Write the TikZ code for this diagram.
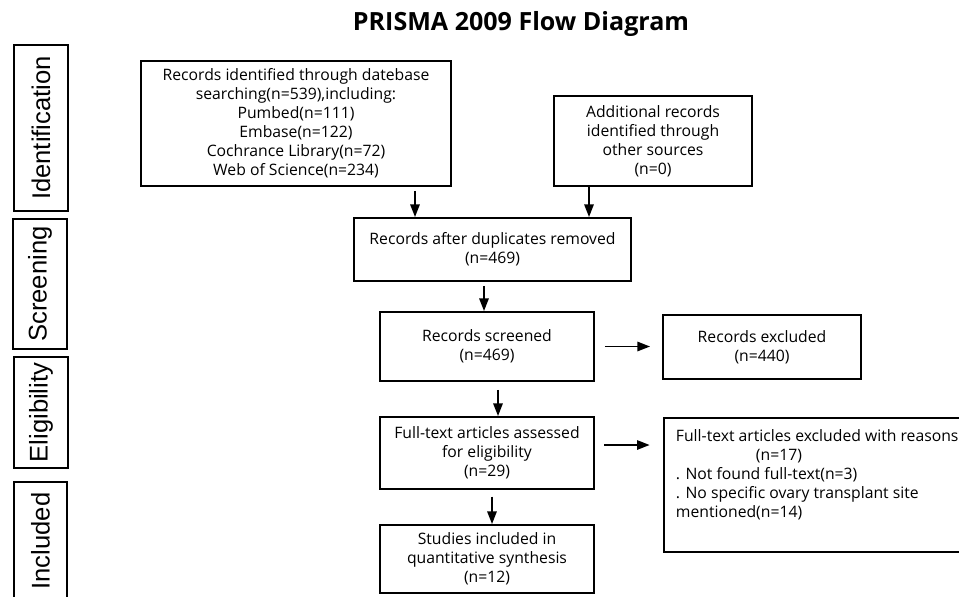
\documentclass[tikz,border=0pt]{standalone}
\usepackage{fontspec}
\setmainfont{Open Sans}
\newfontfamily\phasefont{Liberation Sans}
\usetikzlibrary{arrows.meta,positioning,calc}

\begin{document}
\begin{tikzpicture}[
  x=0.75pt, y=-0.75pt,
  >={Triangle[length=9.5pt,width=7pt]},
  box/.style={draw, line width=1.4pt, align=center, inner sep=2pt, font=\fontsize{11.8}{14.25}\selectfont},
  phase/.style={draw, line width=0.8pt, rotate=90, inner sep=0pt, font=\fontsize{19.2}{22}\phasefont},
  arr/.style={->, line width=1.4pt}
]
\useasboundingbox (0,0) rectangle (959,596);

\node[anchor=base, font=\fontsize{18.8}{20}\selectfont\bfseries] (title) at (521,30) {PRISMA 2009 Flow Diagram};

% phases
\node[phase, minimum width=166*0.75pt, minimum height=54*0.75pt] (ident) at (41,128) {Identification};
\node[phase, minimum width=130*0.75pt, minimum height=54*0.75pt] (screen) at (40,284) {Screening};
\node[phase, minimum width=111*0.75pt, minimum height=54*0.75pt] (elig) at (41,412.5) {Eligibility};
\node[phase, minimum width=118*0.75pt, minimum height=53*0.75pt] (incl) at (40.5,541) {Included};

% boxes
\node[box, minimum width=310*0.75pt, minimum height=125*0.75pt] (found) at (296,123.5)
  {Records identified through datebase\\searching(n=539),including:\\Pumbed(n=111)\\Embase(n=122)\\Cochrance Library(n=72)\\Web of Science(n=234)};
\node[box, minimum width=198*0.75pt, minimum height=90*0.75pt] (other) at (653,141)
  {Additional records\\identified through\\other sources\\(n=0)};
\node[box, minimum width=277*0.75pt, minimum height=63*0.75pt] (dedup) at (492.5,249.5)
  {Records after duplicates removed\\(n=469)};
\node[box, minimum width=214*0.75pt, minimum height=69*0.75pt] (screened) at (487,346.5)
  {Records screened\\(n=469)};
\node[box, minimum width=198*0.75pt, minimum height=64*0.75pt] (excl) at (762,347)
  {Records excluded\\(n=440)};
\node[box, minimum width=214*0.75pt, minimum height=72*0.75pt] (full) at (487,453)
  {Full-text articles assessed\\for eligibility\\(n=29)};
\node[box, anchor=north west, inner xsep=9pt, inner ysep=0pt] (fullexcl) at (663,417)
  {\parbox[c][100.5pt][t]{228pt}{\raggedright
   \rule{0pt}{18pt}Full-text articles excluded with reasons\\
   \hspace*{60pt}(n=17)\\
   . Not found full-text(n=3)\\
   . No specific ovary transplant site\\
   mentioned(n=14)}};
\node[box, minimum width=214*0.75pt, minimum height=68*0.75pt] (incl2) at (487,559)
  {Studies included in\\quantitative synthesis\\(n=12)};

% arrows
\path ($(found.south)+(119,0)$) coordinate (a1)
      ($(other.south)+(-64,0)$) coordinate (a2)
      ($(screened.north)+(-3,0)$) coordinate (a3)
      ($(screened.south)+(11,0)$) coordinate (a4)
      ($(full.east)+(0,-8)$) coordinate (a5)
      ($(full.south)+(5,0)$) coordinate (a6);
\draw[arr, shorten <=3pt] (a1) -- (a1 |- dedup.north);
\draw[arr] (a2) -- (a2 |- dedup.north);
\draw[arr, shorten <=3pt] (a3 |- dedup.south) -- (a3);
\draw[arr, shorten <=7.5pt, shorten >=9pt] (screened.east) -- (screened.east -| excl.west);
\draw[arr, shorten <=6pt] (a4) -- (a4 |- full.north);
\draw[arr, shorten <=7pt, shorten >=10pt] (a5) -- (a5 -| fullexcl.west);
\draw[arr, shorten <=5pt] (a6) -- (a6 |- incl2.north);
\end{tikzpicture}
\end{document}
